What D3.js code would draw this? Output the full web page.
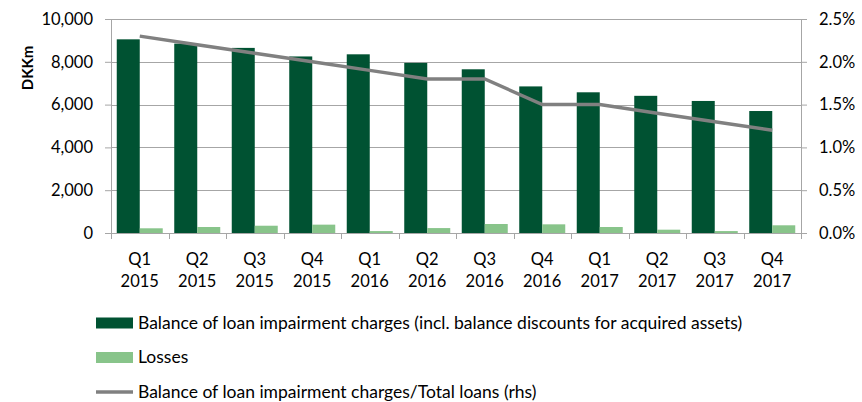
<!DOCTYPE html>
<html>
<head>
<meta charset="utf-8">
<script src="https://cdn.jsdelivr.net/npm/d3@7"></script>
<style>
  body { margin: 0; background: #fff; }
  text { font-family: Lato, "Open Sans", sans-serif; fill: #000; }
</style>
</head>
<body>
<div id="chart"></div>
<script>
// Chart data
const quarters = ["Q1", "Q2", "Q3", "Q4", "Q1", "Q2", "Q3", "Q4", "Q1", "Q2", "Q3", "Q4"];
const years = ["2015", "2015", "2015", "2015", "2016", "2016", "2016", "2016", "2017", "2017", "2017", "2017"];
const balance = [9050, 8850, 8650, 8250, 8350, 7950, 7650, 6850, 6575, 6410, 6170, 5700];
const losses = [220, 280, 340, 390, 90, 230, 420, 405, 280, 155, 90, 360];
const ratio = [2.3, 2.2, 2.1, 2.0, 1.9, 1.8, 1.8, 1.5, 1.5, 1.4, 1.3, 1.2];
const leftTicks = [0, 2000, 4000, 6000, 8000, 10000];
const rightTicks = [0, 0.5, 1.0, 1.5, 2.0, 2.5];

const darkGreen = "#005232", lightGreen = "#88c48a", lineGrey = "#808080", gridGrey = "#a6a6a6";

const width = 862, height = 402;
const margin = {top: 19, right: 61, bottom: 169, left: 111};
const innerW = width - margin.left - margin.right,
      innerH = height - margin.top - margin.bottom;

const svg = d3.select("#chart").append("svg")
    .attr("width", width)
    .attr("height", height);

const g = svg.append("g")
    .attr("transform", `translate(${margin.left},${margin.top})`);

const idx = d3.range(quarters.length);

const x = d3.scaleBand().domain(idx).range([0, innerW]).paddingInner(0).paddingOuter(0);
const yL = d3.scaleLinear().domain([0, 10000]).range([innerH, 0]);
const yR = d3.scaleLinear().domain([0, 2.5]).range([innerH, 0]);

// gridlines
g.selectAll(".grid")
    .data(leftTicks.slice(1))
  .enter().append("line")
    .attr("x1", 0).attr("x2", innerW)
    .attr("y1", d => Math.round(yL(d)) + 0.5)
    .attr("y2", d => Math.round(yL(d)) + 0.5)
    .attr("stroke", gridGrey).attr("stroke-width", 1);

// bars
const pad = x.bandwidth() * 0.1;
const bw = (x.bandwidth() - 2 * pad) / 2;

g.selectAll(".bal")
    .data(idx)
  .enter().append("rect")
    .attr("x", i => x(i) + pad)
    .attr("y", i => yL(balance[i]))
    .attr("width", bw)
    .attr("height", i => innerH - yL(balance[i]))
    .attr("fill", darkGreen);

g.selectAll(".loss")
    .data(idx)
  .enter().append("rect")
    .attr("x", i => x(i) + pad + bw)
    .attr("y", i => yL(losses[i]))
    .attr("width", bw)
    .attr("height", i => innerH - yL(losses[i]))
    .attr("fill", lightGreen);

// ratio line
const line = d3.line()
    .x(i => x(i) + x.bandwidth() / 2)
    .y(i => yR(ratio[i]));

g.append("path")
    .datum(idx)
    .attr("d", line)
    .attr("fill", "none")
    .attr("stroke", lineGrey)
    .attr("stroke-width", 3.5);

// axes
function styleAxis(sel) {
  sel.select(".domain").attr("stroke", gridGrey);
  sel.selectAll(".tick line").attr("stroke", gridGrey);
  sel.selectAll("text").style("font-size", "16.5px").attr("fill", "#000");
}

g.append("g")
    .call(d3.axisLeft(yL).tickValues(leftTicks).tickSizeOuter(0).tickSize(6).tickPadding(12)
      .tickFormat(d3.format(",")))
    .call(styleAxis);

g.append("g")
    .attr("transform", `translate(${innerW},0)`)
    .call(d3.axisRight(yR).tickValues(rightTicks).tickSizeOuter(0).tickSize(6).tickPadding(12)
      .tickFormat(d => d.toFixed(1) + "%"))
    .call(styleAxis);

// bottom axis: ticks between categories
const xb = g.append("g").attr("transform", `translate(0,${innerH})`);
xb.append("line")
    .attr("x1", 0).attr("x2", innerW)
    .attr("y1", 0.5).attr("y2", 0.5)
    .attr("stroke", gridGrey);
xb.selectAll(".xt")
    .data(d3.range(quarters.length + 1))
  .enter().append("line")
    .attr("x1", i => Math.round(i < quarters.length ? x(i) : innerW) + 0.5)
    .attr("x2", i => Math.round(i < quarters.length ? x(i) : innerW) + 0.5)
    .attr("y1", 0).attr("y2", 6)
    .attr("stroke", gridGrey);

const lbl = xb.selectAll(".xl")
    .data(idx)
  .enter().append("text")
    .attr("text-anchor", "middle")
    .style("font-size", "16.5px")
    .attr("x", i => x(i) + x.bandwidth() / 2);
lbl.append("tspan").attr("x", i => x(i) + x.bandwidth() / 2).attr("y", 32).text(i => quarters[i]);
lbl.append("tspan").attr("x", i => x(i) + x.bandwidth() / 2).attr("y", 54).text(i => years[i]);

// y-axis title
svg.append("text")
    .attr("transform", "translate(33,68) rotate(-90)")
    .attr("text-anchor", "middle")
    .style("font-size", "15px")
    .style("font-weight", "bold")
    .text("DKKm");

// legend
const legendItems = [
  {label: "Balance of loan impairment charges (incl. balance discounts for acquired assets)", type: "rect", color: darkGreen},
  {label: "Losses", type: "rect", color: lightGreen},
  {label: "Balance of loan impairment charges/Total loans (rhs)", type: "line", color: lineGrey}
];

const legend = svg.append("g").attr("transform", "translate(96,323)");
legendItems.forEach((d, i) => {
  const row = legend.append("g").attr("transform", `translate(0,${i * 34.5})`);
  if (d.type === "rect") {
    row.append("rect").attr("x", 0).attr("y", -5.5).attr("width", 37).attr("height", 11).attr("fill", d.color);
  } else {
    row.append("line").attr("x1", 0).attr("x2", 37).attr("y1", 0).attr("y2", 0)
      .attr("stroke", d.color).attr("stroke-width", 3.5);
  }
  row.append("text")
      .attr("x", 42).attr("y", 5.5)
      .style("font-size", "17.5px")
      .text(d.label);
});
</script>
</body>
</html>
